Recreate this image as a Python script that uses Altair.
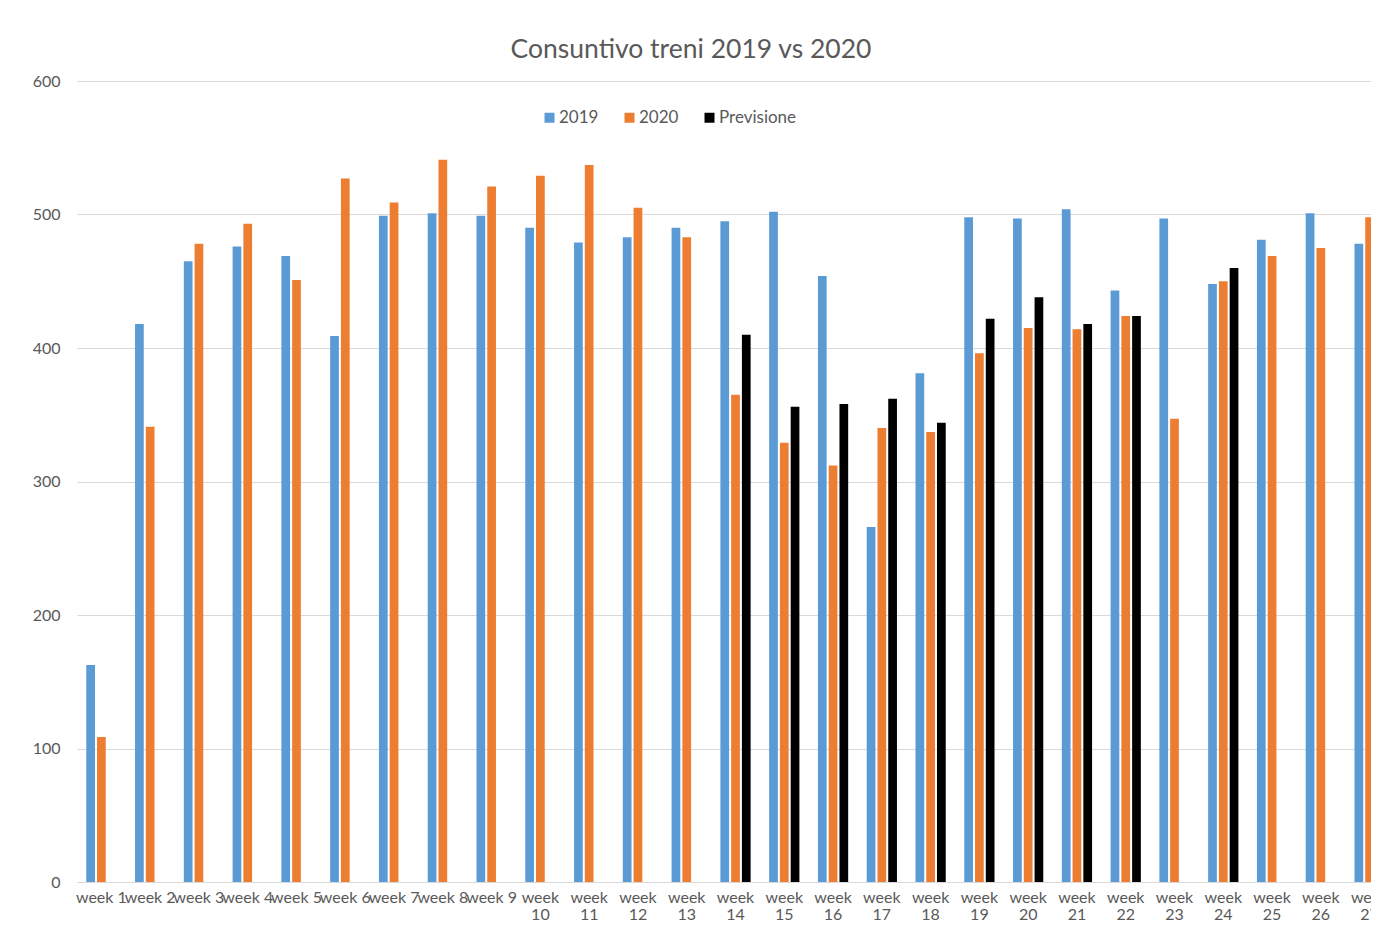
import altair as alt
import pandas as pd

weeks = [f"week {i}" for i in range(1, 28)]
v2019 = [162.5, 418, 465, 476, 469, 409, 499, 501, 499, 490, 479, 483, 490, 495,
         502, 454, 266, 381, 498, 497, 504, 443, 497, 448, 481, 501, 478]
v2020 = [108.6, 341, 478, 493, 451, 527, 509, 541, 521, 529, 537, 505, 483, 365,
         329, 312, 340, 337, 396, 415, 414, 424, 347, 450, 469, 475, 498]
prev_weeks = ["week 14", "week 15", "week 16", "week 17", "week 18", "week 19",
              "week 20", "week 21", "week 22", "week 24"]
prev_vals = [410, 356, 358, 362, 344, 422, 438, 418, 424, 460]

series = ["2019", "2020", "Previsione"]
colors = ["#5B9BD5", "#ED7D31", "#000000"]

rows = []
for w, v in zip(weeks, v2019):
    rows.append({"week": w, "serie": "2019", "valore": v})
for w, v in zip(weeks, v2020):
    rows.append({"week": w, "serie": "2020", "valore": v})
for w, v in zip(prev_weeks, prev_vals):
    rows.append({"week": w, "serie": "Previsione", "valore": v})
df = pd.DataFrame(rows)

FONT = "Lato"
GRAY = "#595959"

chart = alt.Chart(df).mark_bar().encode(
    x=alt.X("week:N", sort=weeks,
            scale=alt.Scale(range=[0, 1317], paddingInner=0.38, paddingOuter=0.19),
            axis=alt.Axis(title=None, labelAngle=0, ticks=False, grid=False,
                          domainColor="#d9d9d9", labelColor=GRAY, labelFont=FONT,
                          labelFontSize=16, labelPadding=7, labelOverlap=False,
                          labelBound=False, labelFlush=False, labelLineHeight=17,
                          labelExpr="length(datum.label) > 6 ? split(datum.label, ' ') : datum.label")),
    xOffset=alt.XOffset("serie:N", sort=series,
                        scale=alt.Scale(paddingInner=0.19, paddingOuter=0)),
    y=alt.Y("valore:Q", scale=alt.Scale(domain=[0, 600]),
            axis=alt.Axis(title=None, values=[0, 100, 200, 300, 400, 500, 600],
                          ticks=False, domain=False, gridColor="#d9d9d9",
                          labelColor=GRAY, labelFont=FONT, labelFontSize=16,
                          labelPadding=17)),
    color=alt.Color("serie:N", sort=series,
                    scale=alt.Scale(domain=series, range=colors),
                    legend=alt.Legend(title=None, orient="none", legendX=464, legendY=28,
                                      direction="horizontal", symbolType="square",
                                      symbolSize=100, symbolStrokeWidth=0,
                                      labelFont=FONT, labelFontSize=17, labelColor=GRAY,
                                      labelOffset=1, columnPadding=22, padding=0)),
).properties(
    width=1294, height=801,
    title=alt.TitleParams("Consuntivo treni 2019 vs 2020", anchor="middle", dx=-33, dy=34,
                          font=FONT, fontSize=26.5, fontWeight="normal", color=GRAY,
                          baseline="alphabetic", offset=23),
    autosize=alt.AutoSizeParams(type="none"),
    padding={"left": 69, "top": 73, "right": 0, "bottom": 42},
).configure_view(stroke=None)

chart.save("out.html", embed_options={"renderer": "svg", "actions": False})
